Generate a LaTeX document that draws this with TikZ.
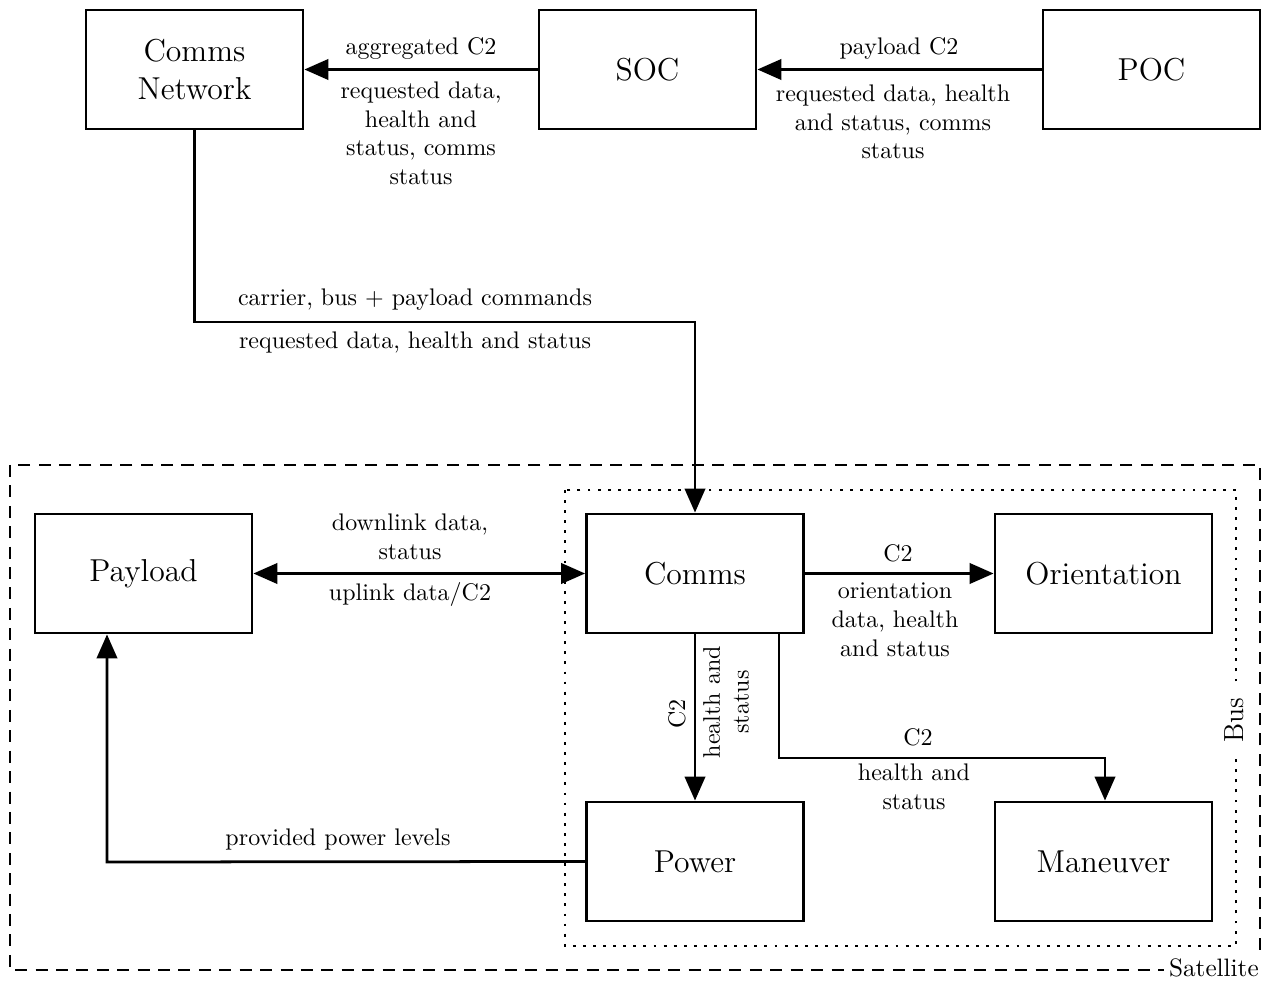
\documentclass[tikz,border=0pt]{standalone}
\usetikzlibrary{arrows.meta}
\begin{document}
\begin{tikzpicture}[x=0.4165pt,y=-0.4165pt,
  box/.style={draw,line width=1.15pt,minimum width=90.4pt,minimum height=49.6pt,inner sep=2pt,align=center,font=\fontsize{13.2pt}{15.8pt}\selectfont},
  conn/.style={line width=1.15pt,-{Triangle[length=10pt,width=8.5pt]}},
  dconn/.style={line width=1.15pt,{Triangle[length=10pt,width=8.5pt]}-{Triangle[length=10pt,width=8.5pt]}},
  lbl/.style={align=center,inner sep=3pt,font=\normalsize}]
\useasboundingbox (0,0) rectangle (1271,981);
% containers
\draw[line width=1.2pt,dash pattern=on 5pt off 3.5pt] (10,465) rectangle (1260,970);
\draw[line width=1.2pt,dash pattern=on 1.2pt off 3pt] (565,490) rectangle (1236,946);
\node[fill=white,inner sep=2pt,anchor=east,font=\fontsize{10.5pt}{12.6pt}\selectfont] (satlbl) at (1264,968) {Satellite};
\node[fill=white,inner sep=6pt,rotate=90,font=\fontsize{11.5pt}{13.8pt}\selectfont] (buslbl) at (1234,720) {Bus};
% boxes
\node[box] (cn) at (194.5,69.5) {Comms\\Network};
\node[box] (soc) at (647.5,69.5) {SOC};
\node[box] (poc) at (1151.5,69.5) {POC};
\node[box,fill=white] (payload) at (143.5,573.5) {Payload};
\node[box,fill=white] (comms) at (695,573.5) {Comms};
\node[box] (orient) at (1103.5,573.5) {Orientation};
\node[box] (power) at (695,861.5) {Power};
\node[box] (man) at (1103.5,861.5) {Maneuver};
% coordinates
\coordinate (cnbend) at (194.5,322);
\coordinate (cmbend) at (695,322);
\coordinate (mnA) at (779,758);
\coordinate (mnB) at (1105,758);
\coordinate (pwbend) at (107,862);
% connectors
\draw[conn] (poc.west) -- (soc.east);
\node[lbl,anchor=south] (l1) at (899,67) {payload C2};
\node[lbl,anchor=north] (l2) at (893,77) {requested data, health\\and status, comms\\status};
\draw[conn] (soc.west) -- (cn.east);
\node[lbl,anchor=south] (l3) at (421,67) {aggregated C2};
\node[lbl,anchor=north] (l4) at (421,74) {requested data,\\health and\\status, comms\\status};
\draw[conn] (cn.south) -- (cnbend) -- (cmbend) -- (comms.north);
\node[lbl,anchor=south] (l5) at (415,318) {carrier, bus + payload commands};
\node[lbl,anchor=north] (l6) at (415,324) {requested data, health and status};
\draw[dconn] (payload.east) -- (comms.west);
\node[lbl,anchor=south] (l7) at (410,567) {downlink data,\\status};
\node[lbl,anchor=north] (l8) at (410,575) {uplink data/C2};
\draw[conn] (comms.east) -- (orient.west);
\node[lbl,anchor=south] (l9) at (898,570) {C2};
\node[lbl,anchor=north] (l10) at (895,575) {orientation\\data, health\\and status};
\draw[conn] (comms.south) -- (power.north);
\node[lbl,rotate=90] (l11) at (677,714) {C2};
\node[lbl,rotate=90] (l12) at (726,702) {health and\\status};
\draw[conn] (comms.south -| mnA) -- (mnA) -- (mnB) -- (man.north -| mnB);
\node[lbl,anchor=south] (l13) at (918,754) {C2};
\node[lbl,anchor=north] (l14) at (914,756) {health and\\status};
\draw[conn] (power.west) -- (pwbend) -- (payload.south -| pwbend);
\node[lbl,anchor=south] (l15) at (338,858) {provided power levels};
\end{tikzpicture}
\end{document}
